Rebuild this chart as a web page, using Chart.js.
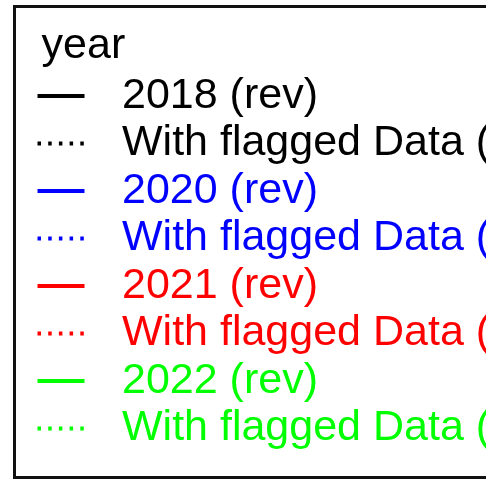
<!DOCTYPE html>
<html>
<head>
<meta charset="utf-8">
<script src="https://cdn.jsdelivr.net/npm/chart.js@4"></script>
<style>
    html, body { margin: 0; padding: 0; background: #fff; overflow: hidden; }
    #wrap { width: 486px; height: 479px; overflow: hidden; }
</style>
</head>
<body>
<div id="wrap">
    <canvas id="legendChart" width="1200" height="479"></canvas>
</div>
<script>
// --- Data --- //
const xLabels = [];
const years = ['2018', '2020', '2021', '2022'];
const seriesNames = ['2018 (rev)', 'With flagged Data (rev)', '2020 (rev)', 'With flagged Data (rev)',
                     '2021 (rev)', 'With flagged Data (rev)', '2022 (rev)', 'With flagged Data (rev)'];
const seriesValues = [[], [], [], [], [], [], [], []];
const yearColors = ['#000000', '#0000ff', '#ff0000', '#00ff00'];

const solidDash = [47, 300];
const dottedDash = [3.5, 7.2, 3.5, 7.2, 3.5, 7.2, 3.5, 7.2, 3.5, 300];

document.addEventListener('DOMContentLoaded', () => {
    const ctx = document.getElementById('legendChart').getContext('2d');

    const datasets = seriesNames.map((name, i) => ({
        label: name,
        data: seriesValues[i],
        borderColor: yearColors[Math.floor(i / 2)],
        borderDash: i % 2 ? [2, 6] : [],
        borderWidth: 2,
        pointRadius: 0
    }));

    // --- Box round the legend --- //
    const legendBorder = {
        id: 'legendBorder',
        afterDraw(chart) {
            const lg = chart.legend;
            const c = chart.ctx;
            c.save();
            c.strokeStyle = '#111';
            c.lineWidth = 3;
            c.strokeRect(lg.left - 18.5, lg.top + 0.5, 2000, lg.bottom - lg.top - 1);
            c.restore();
        }
    };

    new Chart(ctx, {
        type: 'line',
        data: { labels: xLabels, datasets },
        plugins: [legendBorder],
        options: {
            responsive: false,
            animation: false,
            layout: { padding: { left: 33, top: 6, bottom: 1, right: 0 } },
            scales: { x: { display: false }, y: { display: false } },
            plugins: {
                tooltip: { enabled: false },
                legend: {
                    position: 'left',
                    align: 'start',
                    title: {
                        display: true,
                        text: '\u2009year',
                        color: '#000',
                        position: 'start',
                        padding: { top: 18.5, bottom: 2.5 },
                        font: { family: 'Liberation Sans', size: 43, lineHeight: 1 }
                    },
                    labels: {
                        usePointStyle: true,
                        pointStyleWidth: 63,
                        padding: 4.5,
                        font: { family: 'Liberation Sans', size: 43 },
                        generateLabels(chart) {
                            return chart.data.datasets.map((ds, i) => ({
                                text: ds.label,
                                fillStyle: 'rgba(0,0,0,0)',
                                strokeStyle: ds.borderColor,
                                fontColor: ds.borderColor,
                                lineWidth: 4,
                                lineDash: i % 2 ? dottedDash : solidDash,
                                pointStyle: 'line',
                                hidden: false,
                                datasetIndex: i
                            }));
                        }
                    }
                }
            }
        }
    });
});
</script>
</body>
</html>
